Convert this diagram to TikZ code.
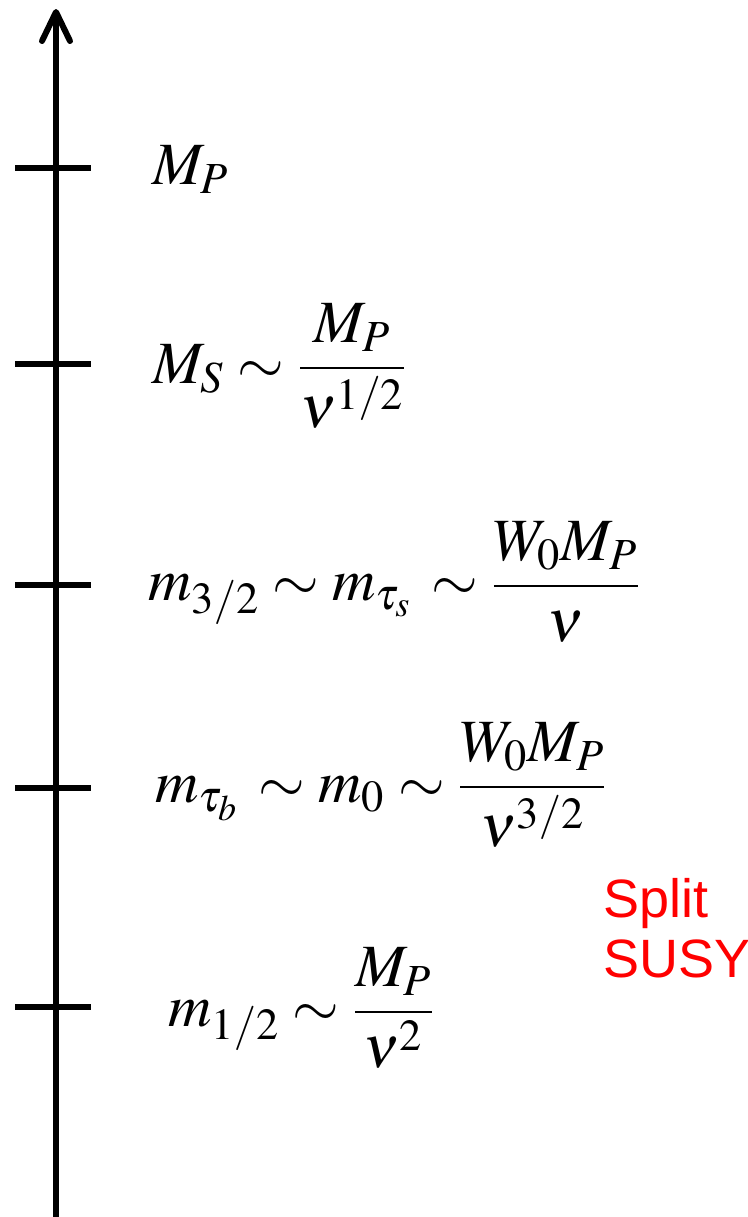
\documentclass[tikz,border=0pt]{standalone}
\usepackage{amsmath}
\usepackage{mathptmx}
\usepackage{fontspec}
\newfontfamily\splitfont{Liberation Sans}
\tikzset{
  axisline/.style={line width=3pt, line cap=round, line join=round},
  tick/.style={line width=3pt},
  scalelabel/.style={anchor=west, inner sep=0pt, font=\fontsize{30}{36}\selectfont},
}
\begin{document}
\begin{tikzpicture}[x=0.5pt, y=-0.5pt]
    \useasboundingbox (0,0) rectangle (748,1217);
    \coordinate (top) at (56,12);
    \draw[line width=3pt] (56,1217) -- (top);
    \draw[axisline] (42,41) -- (top) -- (70,41);
    \foreach \t in {168,364,585,788,1007} \draw[tick] (15,\t) -- (91,\t);

    \node[scalelabel] (mp) at (152,170) {$M_P$};
    \node[scalelabel] (ms) at (152,366) {$M_S \sim \dfrac{M_P}{\nu^{1/2}}$};
    \node[scalelabel] (mgrav) at (148,582) {$m_{3/2} \sim m_{\tau_s}\, \sim \dfrac{W_0 M_P}{\nu}$};
    \node[scalelabel] (mzero) at (155,785) {$m_{\tau_b}\, \sim m_0 \sim \dfrac{W_0 M_P}{\nu^{3/2}}$};
    \node[scalelabel] (mhalf) at (168,1008) {$m_{1/2} \sim \dfrac{M_P}{\nu^{2}}$};

    \node[anchor=north west, inner sep=0pt, align=left, text=red, font=\splitfont\fontsize{27}{30}\selectfont] (split) at (603,878) {Split\\SUSY};
\end{tikzpicture}
\end{document}
